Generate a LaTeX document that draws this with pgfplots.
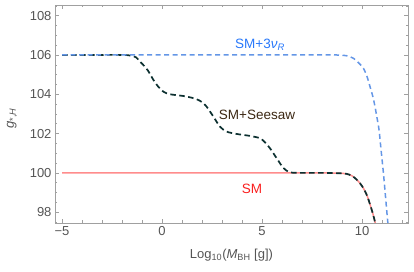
\documentclass[border=0pt]{standalone}
\usepackage{fontspec}
\setmainfont{Liberation Sans}
\usepackage{pgfplots}
\pgfplotsset{compat=1.18}
\definecolor{framegray}{RGB}{160,160,160}
\definecolor{labgray}{RGB}{85,85,85}
\definecolor{smred}{RGB}{255,140,140}
\definecolor{darkteal}{RGB}{12,48,48}
\definecolor{nublue}{RGB}{100,150,230}
\definecolor{nutext}{RGB}{40,120,250}
\definecolor{seetext}{RGB}{60,40,20}
\definecolor{smtext}{RGB}{250,30,30}
\begin{document}
\begin{tikzpicture}
\path[use as bounding box] (0,0) rectangle (414pt,272pt);
\begin{axis}[
  at={(55pt,49pt)}, anchor=south west,
  scale only axis, width=353pt, height=218pt,
  xmin=-5.35, xmax=12.3, ymin=97.45, ymax=108.54,
  axis line style={framegray, line width=0.6pt},
  xtick={-5,0,5,10}, xticklabels={−5,0,5,10},
  ytick={98,100,102,104,106,108}, yticklabels={98,100,102,104,106,108},
  minor xtick={-4,-3,-2,-1,1,2,3,4,6,7,8,9,11,12},
  minor ytick={97.5,98.5,99,99.5,100.5,101,101.5,102.5,103,103.5,104.5,105,105.5,106.5,107,107.5,108.5},
  tick align=inside, tick pos=both,
  major tick length=4pt, minor tick length=2.5pt,
  every tick/.style={framegray, line width=0.5pt},
  tick label style={font=\fontsize{13}{15}\selectfont, text=labgray},
  /pgf/number format/assume math mode=true,
  xlabel={Log\textsubscript{10}(\textit{M}\textsubscript{BH} [g])},
  ylabel={\textit{g}\textsubscript{*,\textit{H}}},
  xlabel style={font=\fontsize{13}{15}\selectfont, text=labgray, at={(axis description cs:0.5,-0.147)}, anchor=center},
  ylabel style={font=\fontsize{13}{15}\selectfont, text=labgray, at={(axis description cs:-0.122,0.48)}, anchor=center, rotate=0},
  clip=true,
]
\addplot[smred, line width=1.5pt, smooth] coordinates {
(-5,100) (0,100) (5,100) (6.4,100) (7,100) (8,100) (8.5,99.99) (8.9,99.98) (9.23,99.95) (9.5,99.85) (9.73,99.66) (9.9,99.47) (10.07,99.22) (10.25,98.85) (10.4,98.4) (10.55,97.9) (10.65,97.5) (10.7,97.3)
};
\addplot[darkteal, line width=1.7pt, dash pattern=on 5.5pt off 3.5pt, smooth] coordinates {
(-5,106) (-3.5,106) (-2,106) (-1.6,105.97) (-1.3,105.88) (-1.1,105.66) (-0.9,105.45) (-0.7,105.2) (-0.43,104.73) (-0.2,104.4) (0.07,104.13) (0.4,104.0) (1.07,103.91) (1.5,103.82) (1.73,103.75) (2.0,103.6) (2.23,103.37) (2.57,102.86) (2.9,102.35) (3.23,102.1) (3.73,101.98) (4.4,101.88) (4.9,101.76) (5.15,101.55) (5.4,101.25) (5.73,100.75) (6.07,100.25) (6.4,100.03) (7,100) (8,100) (8.5,99.99) (8.9,99.98) (9.23,99.95) (9.5,99.85) (9.73,99.66) (9.9,99.47) (10.07,99.22) (10.25,98.85) (10.4,98.4) (10.55,97.9) (10.65,97.5) (10.7,97.3)
};
\addplot[nublue, line width=1.5pt, dash pattern=on 5pt off 3.5pt, smooth] coordinates {
(-5,106) (-2,106) (1,106) (4,106) (7,106) (8,106) (8.6,106) (9.07,105.98) (9.35,105.93) (9.57,105.83) (9.8,105.63) (10.07,105.32) (10.25,104.9) (10.4,104.39) (10.55,103.85) (10.65,103.37) (10.75,102.8) (10.85,102.2) (10.96,101.1) (11.07,100) (11.17,98.85) (11.27,97.7) (11.3,97.4)
};
\node[text=nutext, font=\fontsize{13.5}{15}\selectfont] at (axis cs:4.9,106.51) {SM+3\textit{ν}\textsubscript{\textit{R}}};
\node[text=seetext, font=\fontsize{13.5}{15}\selectfont] at (axis cs:4.75,102.95) {SM+Seesaw};
\node[text=smtext, font=\fontsize{13.5}{15}\selectfont] at (axis cs:4.5,99.18) {SM};
\end{axis}
\end{tikzpicture}
\end{document}
